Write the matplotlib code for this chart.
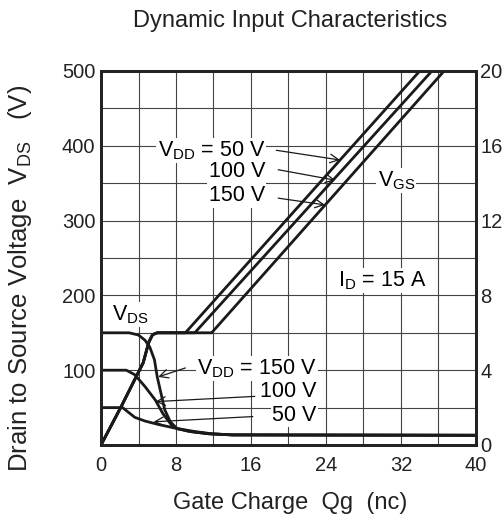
import matplotlib.pyplot as plt
from matplotlib.ticker import MultipleLocator

plt.rcParams["font.family"] = ["Liberation Sans", "DejaVu Sans"]
plt.rcParams["font.size"] = 15.5

# VGS curves (right axis, volts) vs gate charge (nC)
vgs50_q = [0, 2.2, 4.5, 5.1, 5.5, 6.0, 9.0, 34.0]
vgs50_v = [0, 2.1, 4.4, 5.5, 5.9, 6.0, 6.0, 20.0]
vgs100_q = [0, 2.2, 4.5, 5.1, 5.5, 6.0, 10.0, 35.3]
vgs100_v = [0, 2.1, 4.4, 5.5, 5.9, 6.0, 6.0, 20.0]
vgs150_q = [0, 2.2, 4.5, 5.1, 5.5, 6.0, 11.8, 36.6]
vgs150_v = [0, 2.1, 4.4, 5.5, 5.9, 6.0, 6.0, 20.0]

# VDS curves (left axis, volts)
vds150_q = [0, 3.0, 4.0, 4.7, 5.2, 5.7, 6.0, 6.4, 6.8, 7.4, 8.1, 9.5, 11.5, 14, 40]
vds150_v = [150, 150, 147, 140, 131, 114, 91, 69, 47, 31, 22, 18, 15, 13.5, 13]
vds100_q = [0, 2.7, 3.6, 4.7, 5.8, 6.6, 7.5, 8.1, 9.5, 11.5, 14, 40]
vds100_v = [100, 100, 94, 78, 60, 42, 27, 22, 18, 15, 13.5, 13]
vds50_q = [0, 2.3, 2.9, 3.6, 4.7, 6.1, 8.1, 10.0, 11.8, 14, 40]
vds50_v = [50, 50, 44, 37, 32, 27.5, 22, 18, 15, 13.5, 13]

fig = plt.figure(figsize=(5.03, 5.29), dpi=100)
ax = fig.add_axes([0.2008, 0.1588, 0.7455, 0.707])
ax2 = ax.twinx()

ax.set_xlim(0, 40)
ax.set_ylim(0, 500)
ax2.set_ylim(0, 20)

ax.xaxis.set_major_locator(MultipleLocator(8))
ax.xaxis.set_minor_locator(MultipleLocator(4))
ax.set_yticks([100, 200, 300, 400, 500])
ax.yaxis.set_minor_locator(MultipleLocator(50))
ax2.set_yticks([0, 4, 8, 12, 16, 20])

ax.grid(True, which="both", color="#444444", linewidth=0.8)
ax.set_axisbelow(True)
ax.tick_params(which="both", length=0, labelsize=14.5, colors="#222222")
ax.tick_params(axis="x", pad=8)
ax.tick_params(axis="y", pad=4)
ax2.tick_params(length=0, pad=3, labelsize=14.5, colors="#222222")

for sp in list(ax.spines.values()) + list(ax2.spines.values()):
    sp.set_linewidth(2)
    sp.set_color("#222222")

lw = 2
ax2.plot(vgs50_q, vgs50_v, color="#1a1a1a", lw=lw)
ax2.plot(vgs100_q, vgs100_v, color="#1a1a1a", lw=lw)
ax2.plot(vgs150_q, vgs150_v, color="#1a1a1a", lw=lw)
ax.plot(vds150_q, vds150_v, color="#1a1a1a", lw=lw)
ax.plot(vds100_q, vds100_v, color="#1a1a1a", lw=lw)
ax.plot(vds50_q, vds50_v, color="#1a1a1a", lw=lw)

box = dict(facecolor="white", edgecolor="none", pad=1)
arrow = dict(arrowstyle="->", color="#1a1a1a", lw=0.9, shrinkA=0, shrinkB=0)

ax.text(17.5, 394, "V$_{\\mathregular{DD}}$ = 50 V", ha="right", va="center", bbox=box)
ax.text(17.5, 365, "100 V", ha="right", va="center", bbox=box)
ax.text(17.5, 333, "150 V", ha="right", va="center", bbox=box)
ax.annotate("", xy=(25.5, 381), xytext=(18.7, 394), arrowprops=arrow)
ax.annotate("", xy=(25.0, 354), xytext=(18.9, 368), arrowprops=arrow)
ax.annotate("", xy=(23.9, 321), xytext=(18.9, 330), arrowprops=arrow)

ax.text(31.5, 354, "V$_{\\mathregular{GS}}$", ha="center", va="center", bbox=box)
ax.text(30.0, 220, "I$_{\\mathregular{D}}$ = 15 A", ha="center", va="center", bbox=box)
ax.text(3.1, 174, "V$_{\\mathregular{DS}}$", ha="center", va="center", bbox=box)

ax.text(23.0, 102, "V$_{\\mathregular{DD}}$ = 150 V", ha="right", va="center", bbox=box)
ax.text(23.0, 72, "100 V", ha="right", va="center", bbox=box)
ax.text(23.0, 40, "50 V", ha="right", va="center", bbox=box)
ax.annotate("", xy=(6.1, 91), xytext=(9.0, 103), arrowprops=arrow)
ax.annotate("", xy=(5.8, 58), xytext=(16.4, 65), arrowprops=arrow)
ax.annotate("", xy=(5.6, 31), xytext=(16.2, 38), arrowprops=arrow)

fig.text(0.577, 0.960, "Dynamic Input Characteristics", ha="center", va="center",
         color="#222222", fontsize=17)
fig.text(0.577, 0.049, "Gate Charge  Qg  (nc)", ha="center", va="center",
         color="#222222", fontsize=17)
fig.text(0.040, 0.474, "Drain to Source Voltage  V$_{\\mathregular{DS}}$   (V)", ha="center",
         va="center", rotation=90, color="#222222", fontsize=18.5)

fig.savefig("out.png", dpi=100)
